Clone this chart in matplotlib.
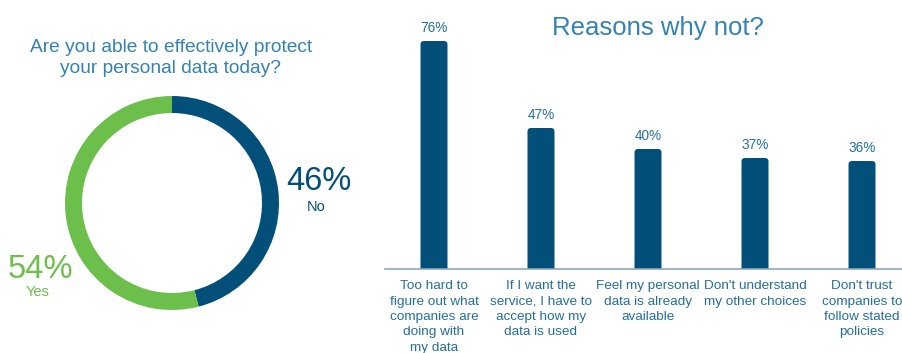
import matplotlib.pyplot as plt
from matplotlib.patches import Wedge, FancyBboxPatch

# Survey: able to protect personal data?
answers = ["No", "Yes"]
shares = [46, 54]

# Reasons why not
reasons = [
    "Too hard to\nfigure out what\ncompanies are\ndoing with\nmy data",
    "If I want the\nservice, I have to\naccept how my\ndata is used",
    "Feel my personal\ndata is already\navailable",
    "Don't understand\nmy other choices",
    "Don't trust\ncompanies to\nfollow stated\npolicies",
]
reason_pct = [76, 47, 40, 37, 36]

DARK = "#02507a"
GREEN = "#6cbf4a"
TITLE = "#3382b4"
LABEL = "#246f9a"

plt.rcParams["font.family"] = ["Liberation Sans", "DejaVu Sans"]

W, H = 903, 353
fig = plt.figure(figsize=(W / 100, H / 100), dpi=100)


def frac(x0, y0, w, h):
    """Pixel box (top-left origin) to figure fraction."""
    return [x0 / W, 1 - (y0 + h) / H, w / W, h / H]


# ---- Donut ----
cx, cy, R, ring = 172, 203, 107, 17
axd = fig.add_axes(frac(cx - 120, cy - 120, 240, 240))
axd.set_xlim(-120, 120)
axd.set_ylim(-120, 120)
axd.set_aspect("equal")
axd.axis("off")
start = 90
colors = [DARK, GREEN]
for val, col in zip(shares, colors):
    sweep = 360 * val / sum(shares)
    axd.add_patch(Wedge((0, 0), R, start - sweep, start, width=ring,
                        facecolor=col, edgecolor="none"))
    start -= sweep

fig.text(171 / W, 1 - 58 / H, "Are you able to effectively protect\nyour personal data today?",
         ha="center", va="center", fontsize=13.8, color=TITLE, linespacing=1.3)
fig.text(319 / W, 1 - 182 / H, f"{shares[0]}%", ha="center", va="center",
         fontsize=23.5, color=DARK)
fig.text(316 / W, 1 - 207 / H, answers[0], ha="center", va="center",
         fontsize=10.5, color=DARK)
fig.text(40 / W, 1 - 269 / H, f"{shares[1]}%", ha="center", va="center",
         fontsize=23.5, color=GREEN)
fig.text(38 / W, 1 - 292 / H, answers[1], ha="center", va="center",
         fontsize=10.5, color=GREEN)

# ---- Bars ----
px_per_pct = 3.0
ymax = 80
axh = ymax * px_per_pct
base_y = 269
axb = fig.add_axes(frac(385, base_y - axh, 518, axh))
step = 107
xmin = -49 / step
xmax = xmin + 518 / step
x = list(range(len(reasons)))
bw = 27 / step
bars = axb.bar(x, reason_pct, width=bw, color=DARK, zorder=2)
# swap the plain rectangles for ones with rounded top corners
r_x = 3.5 / step
aspect = (3.5 / px_per_pct) / r_x
for b in bars:
    x0, w, h = b.get_x(), b.get_width(), b.get_height()
    b.set_visible(False)
    axb.add_patch(FancyBboxPatch((x0, -3), w, h + 3,
                                 boxstyle=f"round,pad=0,rounding_size={r_x}",
                                 mutation_aspect=aspect, facecolor=DARK,
                                 edgecolor="none", zorder=2))
axb.set_xlim(xmin, xmax)
axb.set_ylim(0, ymax)
for s in ["top", "right", "left"]:
    axb.spines[s].set_visible(False)
axb.spines["bottom"].set_color("#8fa9b9")
axb.spines["bottom"].set_linewidth(1.2)
axb.spines["bottom"].set_zorder(3)
axb.set_yticks([])
axb.set_xticks(x)
axb.set_xticklabels(reasons, fontsize=9.7, color=LABEL, linespacing=1.38)
axb.tick_params(axis="x", length=0, pad=8)
for xi, v in zip(x, reason_pct):
    axb.annotate(f"{v}%", (xi, v), xytext=(0, 4), textcoords="offset points",
                 ha="center", va="bottom", fontsize=9.8, color=LABEL)

fig.text(658 / W, 1 - 28 / H, "Reasons why not?", ha="center", va="center",
         fontsize=18.5, color=TITLE)

fig.savefig("out.png", dpi=100, facecolor="white")
